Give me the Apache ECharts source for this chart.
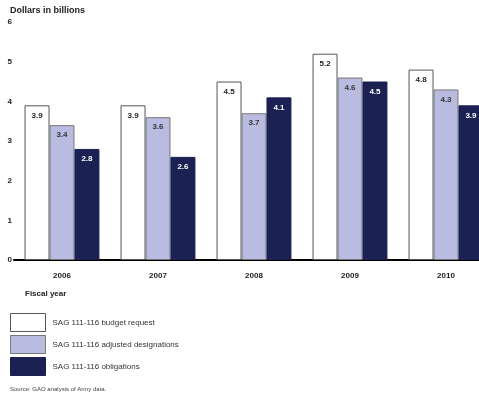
<!DOCTYPE html>
<html><head><meta charset="utf-8">
<script src="https://cdn.jsdelivr.net/npm/echarts@6/dist/echarts.min.js"></script>
<style>html,body{margin:0;padding:0;background:#fff}#c{width:479px;height:396px}</style>
</head><body><div id="c"></div>
<script>
const categories = ['2006','2007','2008','2009','2010'];
const budgetRequest = [3.9, 3.9, 4.5, 5.2, 4.8];
const adjustedDesignations = [3.4, 3.6, 3.7, 4.6, 4.3];
const obligations = [2.8, 2.6, 4.1, 4.5, 3.9];
const seriesNames = ['SAG 111-116 budget request','SAG 111-116 adjusted designations','SAG 111-116 obligations'];
const yTicks = [0,1,2,3,4,5,6];

const chart = echarts.init(document.getElementById('c'));
const font = 'Arial, "Liberation Sans", sans-serif';
function lbl(color){return {show:true,position:'insideTop',distance:6,fontSize:8,fontWeight:'bold',color:color,fontFamily:font,formatter:p=>p.value.toFixed(1)};}
chart.setOption({
  animation:false,
  textStyle:{fontFamily:font},
  title:[
    {text:'Dollars in billions',left:10,top:6,padding:0,textStyle:{fontSize:9,fontWeight:'bold',color:'#222'}},
    {text:'Fiscal year',left:25,top:290,padding:0,textStyle:{fontSize:8,fontWeight:'bold',color:'#222'}},
    {text:'Source: GAO analysis of Army data.',left:10,top:386,padding:0,textStyle:{fontSize:6,fontWeight:'normal',color:'#444'}}
  ],
  legend:{orient:'vertical',left:10,top:313,padding:0,itemWidth:35,itemHeight:18,itemGap:3,icon:'rect',
    itemStyle:{borderWidth:1},
    textStyle:{fontSize:8,color:'#333',padding:[0,0,0,2]},data:seriesNames},
  grid:{left:14,width:480,top:22,bottom:136,outerBoundsMode:'none',containLabel:false},
  xAxis:{type:'category',data:categories,
    axisLine:{lineStyle:{color:'#000',width:2}},axisTick:{show:false},
    axisLabel:{fontSize:8,fontWeight:'bold',color:'#222',margin:12}},
  yAxis:{type:'value',min:0,max:6,interval:1,
    splitLine:{show:false},axisLine:{show:false},axisTick:{show:false},
    axisLabel:{fontSize:8,fontWeight:'bold',color:'#222',margin:2,align:'right',
      formatter:v=>yTicks.includes(v)?String(v):''}},
  series:[
    {name:seriesNames[0],type:'bar',data:budgetRequest,barGap:'0%',barCategoryGap:'22%',
      itemStyle:{color:'#ffffff',borderColor:'#555',borderWidth:1},label:lbl('#222')},
    {name:seriesNames[1],type:'bar',data:adjustedDesignations,
      itemStyle:{color:'#babbe0',borderColor:'#777',borderWidth:1},label:lbl('#333')},
    {name:seriesNames[2],type:'bar',data:obligations,
      itemStyle:{color:'#1b2152',borderColor:'#1b2152',borderWidth:1},label:lbl('#ffffff')}
  ]
});
</script></body></html>
